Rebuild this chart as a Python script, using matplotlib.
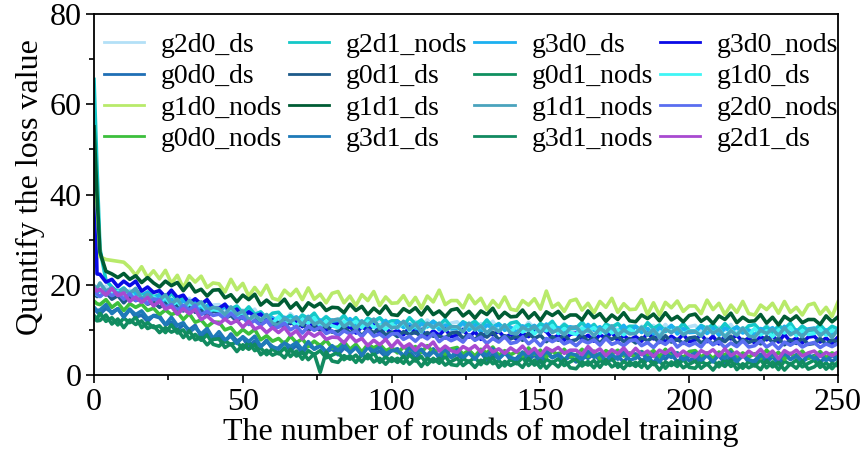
import matplotlib
matplotlib.use('Agg')
from matplotlib import pyplot as plt
from matplotlib.ticker import MultipleLocator

plt.rcParams['font.family'] = ['Liberation Serif', 'DejaVu Serif']

rounds = [0, 1] + list(range(2, 251, 2))

g2d0_ds = [19.2, 18.6,
           18.6, 19.7, 18.0, 19.0, 17.2, 18.8, 17.9, 18.6, 17.2, 17.7,
           16.4, 17.5, 16.6, 17.2, 15.7, 17.0, 15.3, 15.8, 14.5, 15.5,
           15.6, 14.0, 14.6, 13.1, 14.4, 13.5, 14.6, 12.4, 13.4, 12.3,
           12.9, 11.8, 13.6, 12.2, 13.0, 11.4, 12.6, 11.7, 13.0, 11.3,
           11.5, 12.8, 11.1, 12.3, 10.6, 12.2, 11.5, 12.3, 11.0, 11.6,
           10.5, 11.8, 11.1, 11.9, 10.6, 12.2, 10.6, 11.4, 10.3, 11.5,
           11.8, 10.4, 11.2, 9.9, 11.4, 10.7, 11.9, 10.0, 11.1, 10.2,
           10.9, 9.9, 11.7, 10.4, 11.2, 9.7, 11.0, 10.1, 11.4, 9.8,
           10.1, 11.4, 9.8, 10.9, 9.3, 11.0, 10.3, 11.1, 9.8, 10.5,
           9.4, 10.8, 10.1, 11.0, 9.6, 11.2, 9.7, 10.5, 9.4, 10.7,
           11.0, 9.6, 10.5, 9.2, 10.6, 9.9, 11.2, 9.3, 10.5, 9.6,
           10.2, 9.2, 11.0, 9.7, 10.6, 9.1, 10.4, 9.5, 10.9, 9.3,
           9.6, 10.8, 9.4, 10.5, 9.9]
g2d1_nods = [65.5, 46.0,
             28.0, 21.0, 19.5, 18.4, 19.3, 17.9, 18.8, 17.6, 18.4, 17.3,
             17.8, 16.5, 18.1, 16.6, 17.2, 15.5, 16.6, 15.4, 16.6, 14.8,
             14.4, 15.5, 14.6, 15.3, 13.7, 15.1, 13.4, 14.0, 12.6, 13.7,
             13.9, 12.4, 13.2, 11.9, 13.3, 12.5, 13.7, 11.8, 12.9, 11.9,
             11.9, 13.2, 11.5, 12.7, 11.0, 12.6, 11.9, 12.7, 11.4, 12.0,
             12.0, 10.9, 12.7, 11.3, 12.2, 10.7, 11.9, 11.0, 12.3, 10.7,
             10.5, 11.8, 11.1, 11.9, 10.6, 12.2, 10.6, 11.4, 10.2, 11.5,
             11.8, 10.4, 11.2, 9.9, 11.4, 10.7, 11.9, 10.0, 11.2, 10.3,
             10.4, 11.7, 10.1, 11.2, 9.6, 11.3, 10.6, 11.4, 10.1, 10.8,
             10.8, 9.8, 11.6, 10.3, 11.1, 9.6, 10.9, 10.0, 11.4, 9.8,
             9.6, 11.0, 10.3, 11.2, 9.8, 11.4, 9.9, 10.7, 9.6, 10.9,
             11.2, 9.8, 10.7, 9.4, 10.9, 10.2, 11.5, 9.6, 10.8, 9.9,
             10.0, 11.1, 9.7, 10.8, 10.2]
g3d0_ds = [18.8, 18.2,
           18.9, 17.7, 19.4, 17.9, 18.6, 17.0, 18.1, 17.0, 18.3, 16.5,
           17.8, 16.1, 16.8, 15.2, 16.5, 15.5, 16.6, 14.4, 15.4, 14.2,
           14.1, 15.2, 13.3, 14.3, 12.5, 14.0, 13.1, 13.7, 12.2, 12.7,
           11.5, 12.8, 12.1, 12.9, 11.5, 13.0, 11.4, 12.2, 11.0, 12.2,
           11.8, 10.8, 12.5, 11.2, 12.0, 10.4, 11.7, 10.7, 12.1, 10.4,
           11.9, 10.5, 11.3, 10.0, 11.4, 10.7, 11.9, 10.0, 11.1, 10.2,
           10.3, 11.6, 9.9, 11.1, 9.5, 11.1, 10.4, 11.2, 9.9, 10.6,
           9.5, 10.9, 10.2, 11.0, 9.7, 11.3, 9.8, 10.5, 9.4, 10.7,
           10.4, 9.4, 11.2, 9.9, 10.7, 9.2, 10.5, 9.6, 11.0, 9.3,
           10.8, 9.4, 10.3, 9.0, 10.5, 9.8, 11.0, 9.1, 10.3, 9.4,
           9.5, 10.8, 9.2, 10.4, 8.8, 10.4, 9.7, 10.6, 9.3, 10.0,
           8.9, 10.3, 9.6, 10.5, 9.1, 10.8, 9.2, 10.0, 8.9, 10.2,
           10.4, 9.1, 10.0, 8.8, 10.2]
g3d0_nods = [50.0, 22.4,
             22.3, 20.6, 21.2, 19.6, 20.8, 19.8, 20.8, 18.6, 19.5, 18.3,
             18.7, 17.3, 18.8, 17.2, 17.7, 15.9, 16.9, 15.7, 16.7, 14.8,
             14.8, 15.7, 13.8, 14.6, 12.7, 14.0, 13.0, 13.5, 11.9, 12.2,
             11.0, 12.2, 11.4, 12.1, 10.7, 12.2, 10.5, 11.2, 9.9, 11.1,
             11.3, 9.8, 10.7, 9.3, 10.7, 9.9, 11.1, 9.2, 10.3, 9.3,
             9.9, 8.9, 10.6, 9.3, 10.1, 8.5, 9.8, 8.8, 10.2, 8.5,
             8.8, 10.1, 8.4, 9.6, 7.9, 9.6, 8.9, 9.7, 8.3, 9.0,
             7.9, 9.3, 8.5, 9.4, 10.4, 9.6, 8.1, 8.8, 7.7, 9.0,
             9.3, 7.9, 8.8, 7.5, 8.9, 8.2, 9.5, 7.6, 8.7, 7.8,
             8.5, 7.5, 9.3, 8.0, 8.8, 7.3, 8.6, 7.7, 9.0, 7.4,
             7.7, 9.0, 7.4, 8.6, 6.9, 8.6, 8.0, 8.8, 7.4, 8.2,
             7.1, 8.5, 7.8, 8.7, 7.3, 9.0, 7.4, 8.2, 7.1, 8.4,
             8.6, 7.3, 8.2, 7.0, 8.4]
g0d0_ds = [14.8, 14.0,
           13.5, 14.8, 13.9, 14.7, 13.0, 14.6, 12.8, 13.3, 11.9, 13.2,
           13.1, 11.1, 11.7, 9.9, 11.2, 10.0, 11.0, 8.5, 9.4, 8.1,
           8.6, 7.3, 9.1, 7.5, 8.3, 6.3, 7.5, 6.3, 7.7, 5.7,
           6.0, 7.3, 5.4, 6.6, 4.8, 6.7, 5.8, 6.7, 5.1, 5.8,
           4.5, 6.0, 5.2, 6.1, 4.5, 6.3, 4.6, 5.3, 4.1, 5.5,
           5.8, 4.2, 5.1, 3.7, 5.2, 4.4, 5.8, 3.7, 4.8, 3.9,
           4.6, 3.5, 5.4, 4.0, 5.0, 3.3, 4.6, 3.6, 5.1, 3.3,
           3.7, 5.1, 3.3, 4.5, 2.8, 4.7, 3.9, 4.8, 3.3, 4.1,
           2.9, 4.4, 3.7, 4.7, 3.2, 4.9, 3.3, 4.1, 2.9, 4.4,
           4.7, 3.1, 4.1, 2.7, 4.4, 3.5, 4.9, 2.8, 4.1, 3.2,
           3.9, 2.8, 4.8, 3.4, 4.3, 2.6, 4.0, 3.0, 4.6, 2.8,
           3.2, 4.6, 2.8, 4.1, 2.4, 4.3, 3.5, 4.5, 3.0, 3.8,
           4.3, 2.9, 3.9, 3.1, 3.8]
g0d1_ds = [18.0, 17.4,
           17.5, 18.4, 16.8, 17.6, 16.0, 17.4, 16.5, 17.1, 15.7, 16.2,
           15.0, 15.9, 15.1, 15.6, 14.2, 15.5, 13.9, 14.3, 13.1, 14.1,
           14.1, 12.6, 13.2, 11.9, 13.1, 12.2, 13.2, 11.2, 12.0, 11.1,
           11.6, 10.5, 12.0, 10.7, 11.4, 9.9, 10.8, 9.9, 11.0, 9.5,
           9.7, 10.7, 9.3, 10.2, 8.7, 10.2, 9.4, 10.2, 8.9, 9.5,
           8.5, 9.6, 9.0, 9.5, 8.5, 9.4, 8.6, 8.6, 8.2, 9.3,
           9.5, 8.2, 8.9, 7.8, 9.2, 8.4, 9.5, 7.8, 8.7, 8.0,
           8.6, 7.7, 9.3, 8.1, 8.8, 7.4, 8.5, 7.7, 8.9, 7.5,
           7.8, 8.9, 7.4, 8.4, 7.0, 8.6, 7.9, 8.6, 7.4, 8.1,
           7.1, 8.3, 7.6, 8.4, 7.2, 8.7, 7.3, 7.9, 7.0, 8.2,
           8.4, 7.1, 7.9, 6.8, 8.1, 7.4, 8.6, 6.9, 7.9, 7.2,
           7.8, 6.9, 8.5, 7.3, 8.1, 6.7, 7.8, 7.0, 8.2, 6.8,
           7.0, 8.1, 6.8, 7.8, 7.3]
g0d1_nods = [13.2, 12.4,
             13.7, 11.9, 12.7, 11.1, 12.6, 11.6, 12.8, 10.5, 11.6, 10.5,
             10.9, 9.4, 11.1, 9.3, 10.0, 8.0, 9.0, 7.7, 8.9, 6.8,
             6.4, 7.6, 6.7, 7.4, 5.7, 7.3, 5.4, 6.0, 4.5, 5.8,
             4.7, 6.0, 4.1, 5.3, 3.5, 5.4, 4.5, 5.4, 3.8, 4.4,
             5.0, 3.4, 4.3, 2.8, 4.5, 3.6, 4.9, 2.8, 4.0, 3.0,
             3.7, 2.6, 4.5, 3.1, 4.1, 2.3, 3.7, 2.6, 4.2, 2.3,
             2.1, 3.6, 2.9, 3.9, 2.3, 4.1, 2.5, 3.2, 2.0, 3.5,
             2.5, 3.9, 2.1, 3.3, 1.6, 3.5, 2.7, 3.6, 2.1, 2.9,
             3.6, 2.0, 3.0, 1.6, 3.3, 2.4, 3.8, 1.7, 3.0, 2.1,
             2.8, 1.7, 3.7, 2.3, 3.2, 1.5, 2.9, 1.9, 3.5, 1.7,
             1.5, 3.0, 2.3, 3.3, 1.8, 3.5, 1.9, 2.7, 1.5, 3.0,
             2.0, 3.4, 1.6, 2.9, 1.2, 3.1, 2.3, 3.3, 1.8, 2.6,
             3.3, 1.7, 2.7, 1.4, 2.9]
g1d0_ds = [18.4, 17.8,
           17.4, 18.6, 17.8, 18.5, 17.0, 18.5, 16.8, 17.4, 16.2, 17.3,
           16.2, 17.2, 15.4, 16.3, 14.5, 15.9, 15.0, 15.6, 14.1, 14.5,
           14.3, 13.1, 14.7, 13.2, 13.9, 12.2, 13.2, 12.1, 13.3, 11.5,
           12.9, 11.4, 12.3, 10.9, 12.3, 11.5, 12.7, 10.8, 11.9, 10.9,
           10.5, 11.9, 11.1, 11.9, 10.5, 12.0, 10.5, 11.2, 10.1, 11.3,
           10.4, 11.7, 9.9, 11.1, 9.5, 11.2, 10.4, 11.3, 9.9, 10.6,
           10.6, 9.6, 11.3, 10.0, 10.9, 9.3, 10.6, 9.7, 11.1, 9.4,
           10.9, 9.5, 10.3, 9.1, 10.5, 9.8, 11.0, 9.2, 10.3, 9.4,
           9.0, 10.4, 9.7, 10.5, 9.2, 10.8, 9.3, 10.0, 8.9, 10.2,
           9.3, 10.6, 8.9, 10.1, 8.5, 10.3, 9.5, 10.4, 9.1, 9.8,
           9.8, 8.8, 10.6, 9.3, 10.1, 8.6, 9.9, 9.0, 10.4, 8.8,
           10.3, 8.9, 9.8, 8.5, 10.0, 9.3, 10.6, 8.7, 9.9, 9.0,
           9.2, 10.2, 8.8, 9.9, 9.4]
g1d0_nods = [51.5, 38.0,
             26.2, 25.6, 25.4, 25.2, 25.0, 23.8, 22.1, 24.0, 21.6, 23.1,
             21.3, 23.2, 20.3, 22.1, 19.3, 22.0, 20.6, 21.9, 19.4, 20.4,
             20.2, 18.4, 21.2, 18.9, 20.3, 17.5, 19.4, 17.7, 19.9, 17.0,
             16.6, 18.8, 17.6, 19.0, 16.7, 19.3, 16.8, 17.9, 16.0, 18.1,
             18.5, 16.0, 17.5, 15.4, 17.8, 16.5, 18.5, 15.4, 17.3, 15.9,
             16.0, 17.6, 15.4, 17.2, 14.8, 17.5, 16.2, 18.8, 15.6, 16.5,
             16.5, 14.9, 17.7, 15.8, 17.0, 14.5, 16.5, 15.0, 17.3, 14.6,
             14.3, 16.5, 15.5, 16.9, 14.6, 18.6, 15.0, 15.9, 14.1, 16.4,
             16.8, 14.4, 15.9, 13.8, 16.3, 15.0, 17.0, 13.9, 15.8, 14.5,
             14.6, 16.7, 13.4, 16.0, 13.3, 16.1, 14.9, 16.4, 14.1, 15.3,
             15.3, 13.6, 16.6, 14.5, 15.9, 13.4, 15.5, 13.9, 16.3, 13.6,
             13.3, 15.5, 14.5, 15.9, 13.7, 16.3, 13.9, 15.0, 13.3, 15.5,
             15.9, 13.5, 15.0, 13.0, 16.2]
g1d1_ds = [55.0, 40.0,
           27.2, 23.0, 22.4, 21.6, 22.5, 21.2, 22.0, 20.5, 21.6, 20.4,
           19.5, 20.8, 19.8, 20.5, 18.7, 20.3, 18.4, 19.0, 17.5, 18.8,
           18.9, 17.1, 17.8, 16.2, 17.7, 16.7, 17.9, 15.5, 16.6, 15.5,
           15.5, 16.8, 14.8, 16.0, 14.2, 16.0, 15.1, 15.9, 14.3, 15.0,
           14.9, 13.8, 15.7, 14.3, 15.2, 13.4, 14.8, 13.7, 15.3, 13.4,
           13.2, 14.7, 13.9, 14.9, 13.3, 15.1, 13.4, 14.2, 12.9, 14.4,
           14.7, 13.1, 14.1, 12.6, 14.2, 13.4, 14.8, 12.6, 13.9, 12.9,
           13.0, 14.4, 12.6, 13.8, 12.1, 14.0, 13.2, 14.1, 12.5, 13.3,
           13.3, 12.2, 14.2, 12.7, 13.6, 11.9, 13.3, 12.3, 13.8, 12.0,
           11.8, 13.3, 12.5, 13.5, 12.0, 13.8, 12.2, 13.0, 11.8, 13.2,
           13.5, 11.9, 12.8, 11.4, 13.1, 12.3, 13.7, 11.6, 12.8, 11.9,
           12.0, 13.4, 11.5, 12.8, 11.1, 13.0, 12.1, 13.1, 11.6, 12.3,
           12.3, 11.2, 13.1, 11.8, 12.9]
g1d1_nods = [19.8, 19.2,
             20.4, 18.6, 19.3, 17.7, 19.1, 18.1, 19.2, 16.9, 17.9, 16.8,
             16.6, 17.8, 15.7, 16.8, 14.8, 16.5, 15.4, 16.2, 14.4, 15.0,
             14.7, 13.4, 15.1, 13.4, 14.2, 12.2, 13.3, 12.1, 13.4, 11.4,
             11.1, 12.6, 11.8, 12.7, 11.1, 12.9, 11.2, 11.9, 10.7, 12.1,
             12.4, 10.7, 11.7, 10.2, 11.9, 11.0, 12.4, 10.3, 11.5, 10.5,
             10.6, 11.9, 10.1, 11.3, 9.6, 11.5, 10.5, 11.5, 9.9, 10.7,
             10.7, 9.6, 11.5, 10.0, 10.9, 9.3, 10.6, 9.6, 11.1, 9.3,
             9.1, 10.6, 9.9, 10.8, 9.3, 11.0, 9.4, 10.1, 8.9, 10.4,
             10.7, 9.1, 10.1, 8.7, 10.3, 9.5, 10.9, 8.8, 10.0, 9.1,
             9.2, 10.6, 8.8, 10.1, 8.3, 10.2, 9.4, 10.4, 8.9, 9.7,
             9.7, 8.6, 10.6, 9.2, 10.1, 8.4, 9.8, 8.8, 10.4, 8.6,
             8.4, 9.9, 9.2, 10.2, 8.7, 10.5, 8.9, 9.7, 8.5, 10.0,
             10.3, 8.7, 9.8, 8.3, 10.1]
g2d0_nods = [18.5, 17.9,
             17.4, 18.4, 17.6, 18.2, 16.8, 18.0, 16.5, 16.9, 15.8, 16.8,
             16.7, 15.1, 15.6, 14.3, 15.4, 14.4, 15.4, 13.4, 14.1, 13.2,
             13.5, 12.4, 13.7, 12.4, 12.9, 11.2, 12.1, 11.0, 12.1, 10.4,
             10.6, 11.5, 10.0, 10.8, 9.3, 10.8, 9.9, 10.6, 9.2, 9.8,
             8.7, 9.8, 9.1, 9.8, 8.5, 10.0, 8.6, 9.1, 8.1, 9.1,
             9.2, 7.9, 8.6, 7.5, 8.8, 8.0, 9.2, 7.4, 8.4, 7.6,
             8.2, 7.3, 8.9, 7.7, 8.4, 7.0, 8.1, 7.3, 8.5, 7.0,
             7.3, 8.4, 6.9, 7.9, 6.5, 8.1, 7.4, 8.1, 6.9, 7.5,
             6.5, 7.7, 7.1, 7.8, 6.6, 8.1, 6.8, 7.3, 6.5, 7.6,
             7.8, 6.5, 7.2, 6.1, 7.5, 6.8, 7.9, 6.2, 7.2, 6.5,
             7.1, 6.2, 7.8, 6.7, 7.4, 6.1, 7.1, 6.3, 7.6, 6.2,
             6.5, 7.6, 6.2, 7.1, 5.8, 7.3, 6.6, 7.4, 6.2, 6.9,
             7.2, 6.1, 6.9, 6.3, 7.0]
g0d0_nods = [16.4, 15.8,
             15.6, 16.7, 15.0, 16.0, 14.3, 15.8, 15.0, 15.7, 14.3, 14.8,
             13.4, 14.4, 13.4, 13.9, 12.3, 13.6, 11.7, 12.2, 10.7, 11.7,
             11.7, 10.0, 10.5, 8.9, 10.1, 9.1, 10.1, 7.8, 8.7, 7.5,
             8.1, 6.9, 8.6, 7.2, 8.0, 6.3, 7.5, 6.5, 7.7, 6.0,
             6.2, 7.4, 5.7, 6.8, 5.1, 6.8, 6.0, 6.8, 5.4, 6.0,
             4.9, 6.2, 5.5, 6.3, 5.0, 6.5, 5.0, 5.7, 4.6, 5.8,
             6.1, 4.6, 5.5, 4.2, 5.7, 4.9, 6.2, 4.3, 5.4, 4.5,
             5.2, 4.2, 6.0, 4.6, 5.5, 4.0, 5.3, 4.4, 5.7, 4.0,
             4.4, 5.7, 4.1, 5.3, 3.6, 5.4, 4.6, 5.5, 4.2, 4.9,
             3.8, 5.2, 4.5, 5.4, 4.0, 5.7, 4.1, 4.9, 3.8, 5.2,
             5.4, 4.0, 4.9, 3.6, 5.1, 4.4, 5.6, 3.7, 4.9, 4.0,
             4.7, 3.7, 5.5, 4.2, 5.0, 3.5, 4.8, 3.9, 5.3, 3.7,
             4.0, 5.2, 3.8, 4.9, 4.3]
g3d1_ds = [15.0, 14.3,
           14.4, 15.6, 13.6, 14.7, 12.8, 14.5, 13.4, 14.2, 12.5, 13.1,
           12.7, 11.2, 12.8, 11.0, 11.6, 9.5, 10.5, 9.1, 10.3, 8.1,
           9.6, 7.8, 8.6, 7.0, 8.5, 7.4, 8.6, 6.3, 7.4, 6.3,
           5.7, 7.1, 6.3, 7.2, 5.6, 7.4, 5.7, 6.4, 5.1, 6.5,
           5.4, 6.8, 4.9, 6.1, 4.3, 6.2, 5.3, 6.2, 4.7, 5.4,
           5.4, 4.2, 6.1, 4.8, 5.7, 3.9, 5.2, 4.2, 5.8, 3.9,
           5.6, 3.9, 4.9, 3.5, 5.2, 4.3, 5.8, 3.6, 4.8, 3.9,
           3.4, 4.9, 4.1, 5.1, 3.6, 5.4, 3.8, 4.5, 3.3, 4.8,
           4.4, 3.3, 5.3, 3.9, 4.8, 3.2, 4.5, 3.5, 5.1, 3.3,
           3.7, 5.1, 3.3, 4.6, 2.9, 4.7, 3.9, 4.9, 3.4, 4.2,
           4.9, 3.3, 4.3, 2.9, 4.6, 3.7, 5.1, 3.0, 4.3, 3.4,
           2.9, 4.4, 3.7, 4.7, 3.2, 5.0, 3.4, 4.2, 3.0, 4.5,
           3.6, 4.6, 3.2, 4.3, 3.7]
g3d1_nods = [12.6, 12.0,
             12.1, 13.3, 11.3, 12.4, 10.5, 12.2, 11.2, 12.0, 10.3, 10.9,
             9.4, 10.5, 9.5, 10.1, 8.3, 9.8, 7.8, 8.3, 6.7, 7.9,
             8.0, 6.1, 6.9, 5.2, 6.7, 5.7, 6.8, 4.5, 5.5, 4.4,
             5.0, 3.8, 5.7, 4.2, 5.1, 3.4, 4.7, 0.6, 5.1, 3.1,
             2.8, 4.3, 3.5, 4.4, 2.9, 4.6, 2.9, 3.7, 2.4, 3.8,
             2.8, 4.2, 2.4, 3.6, 1.9, 3.7, 2.9, 3.7, 2.2, 3.0,
             3.7, 2.1, 3.1, 1.7, 3.3, 2.5, 3.9, 1.7, 3.0, 2.1,
             2.8, 1.7, 3.7, 2.2, 3.2, 1.5, 2.9, 1.8, 3.4, 1.6,
             1.4, 2.9, 2.2, 3.2, 1.7, 3.4, 1.8, 2.6, 1.4, 2.9,
             1.9, 3.3, 1.5, 2.8, 1.1, 2.9, 2.1, 3.1, 1.6, 2.4,
             3.1, 1.5, 2.5, 1.1, 2.8, 1.9, 3.3, 1.2, 2.5, 1.6,
             2.3, 1.2, 3.2, 1.8, 2.8, 1.1, 2.5, 1.5, 3.1, 1.3,
             1.8, 2.9, 1.3, 2.6, 2.0]
g2d1_ds = [19.3, 18.6,
           19.0, 17.7, 19.2, 17.6, 18.2, 16.3, 17.3, 16.1, 17.2, 15.3,
           16.4, 14.6, 15.2, 13.5, 14.7, 13.6, 14.5, 12.3, 13.1, 11.9,
           11.3, 12.4, 11.4, 12.1, 10.6, 11.9, 10.2, 10.7, 9.4, 10.5,
           9.4, 10.5, 8.8, 9.8, 8.0, 9.5, 8.6, 9.4, 7.9, 8.4,
           8.3, 7.1, 8.8, 7.4, 8.1, 6.5, 7.7, 6.7, 7.9, 6.2,
           7.6, 6.1, 6.9, 5.5, 6.9, 6.1, 7.3, 5.3, 6.4, 5.4,
           5.0, 6.3, 5.6, 6.5, 5.1, 6.6, 5.1, 5.8, 4.8, 6.0,
           5.1, 6.4, 4.8, 5.9, 4.3, 6.0, 5.3, 6.1, 4.8, 5.5,
           5.5, 4.5, 6.3, 5.0, 5.8, 4.3, 5.6, 4.7, 6.0, 4.4,
           5.9, 4.5, 5.3, 4.1, 5.5, 4.8, 5.9, 4.2, 5.3, 4.4,
           4.0, 5.4, 4.7, 5.6, 4.2, 5.8, 4.3, 5.1, 4.0, 5.3,
           4.4, 5.7, 4.1, 5.3, 3.6, 5.4, 4.6, 5.5, 4.2, 4.9,
           5.3, 4.1, 5.0, 4.3, 5.1]

series = [
    ('g2d0_ds', g2d0_ds, '#b3e0f7'),
    ('g2d1_nods', g2d1_nods, '#14c8c8'),
    ('g3d0_ds', g3d0_ds, '#1cb0f0'),
    ('g3d0_nods', g3d0_nods, '#0a0ae6'),
    ('g0d0_ds', g0d0_ds, '#1f6fb5'),
    ('g0d1_ds', g0d1_ds, '#1d5a8a'),
    ('g0d1_nods', g0d1_nods, '#109060'),
    ('g1d0_ds', g1d0_ds, '#40f5f5'),
    ('g1d0_nods', g1d0_nods, '#b8ea6a'),
    ('g1d1_ds', g1d1_ds, '#005c34'),
    ('g1d1_nods', g1d1_nods, '#4aa3bd'),
    ('g2d0_nods', g2d0_nods, '#5a6ef0'),
    ('g0d0_nods', g0d0_nods, '#3cbf3c'),
    ('g3d1_ds', g3d1_ds, '#1e7ab8'),
    ('g3d1_nods', g3d1_nods, '#128a60'),
    ('g2d1_ds', g2d1_ds, '#a84ad0'),
]

fig = plt.figure(figsize=(8.61, 4.55), dpi=100)
ax = fig.add_axes([0.1092, 0.1758, 0.8641, 0.7934])

lines = []
for name, vals, col in series:
    ln, = ax.plot(rounds, vals, color=col, lw=2.6, label=name)
    lines.append(ln)

ax.set_xlim(0, 250)
ax.set_ylim(0, 80)
ax.xaxis.set_major_locator(MultipleLocator(50))
ax.xaxis.set_minor_locator(MultipleLocator(25))
ax.yaxis.set_major_locator(MultipleLocator(20))
ax.yaxis.set_minor_locator(MultipleLocator(10))
ax.tick_params(which='both', direction='out', labelsize=23, width=1.2)
ax.tick_params(which='major', length=6, pad=3)
ax.tick_params(which='minor', length=3.5)
for s in ax.spines.values():
    s.set_linewidth(1.3)

ax.set_xlabel('The number of rounds of model training', fontsize=23, labelpad=1)
ax.set_ylabel('Quantify the loss value', fontsize=23, labelpad=3)
ax.xaxis.label.set_x(0.52)
ax.yaxis.label.set_y(0.52)

# legend is read row by row, matplotlib fills columns, so reorder
ncol = 4
order = [r * ncol + c for c in range(ncol) for r in range(4)]
leg = ax.legend([lines[i] for i in order], [series[i][0] for i in order],
                ncol=ncol, loc='upper left', bbox_to_anchor=(0.0, 0.975),
                frameon=False, fontsize=20, handlelength=1.45,
                handletextpad=0.6, columnspacing=0.25, labelspacing=0.21,
                borderaxespad=0.0, borderpad=0.35)
for h in leg.get_lines():
    h.set_linewidth(2)

fig.savefig('out.png', dpi=100)
